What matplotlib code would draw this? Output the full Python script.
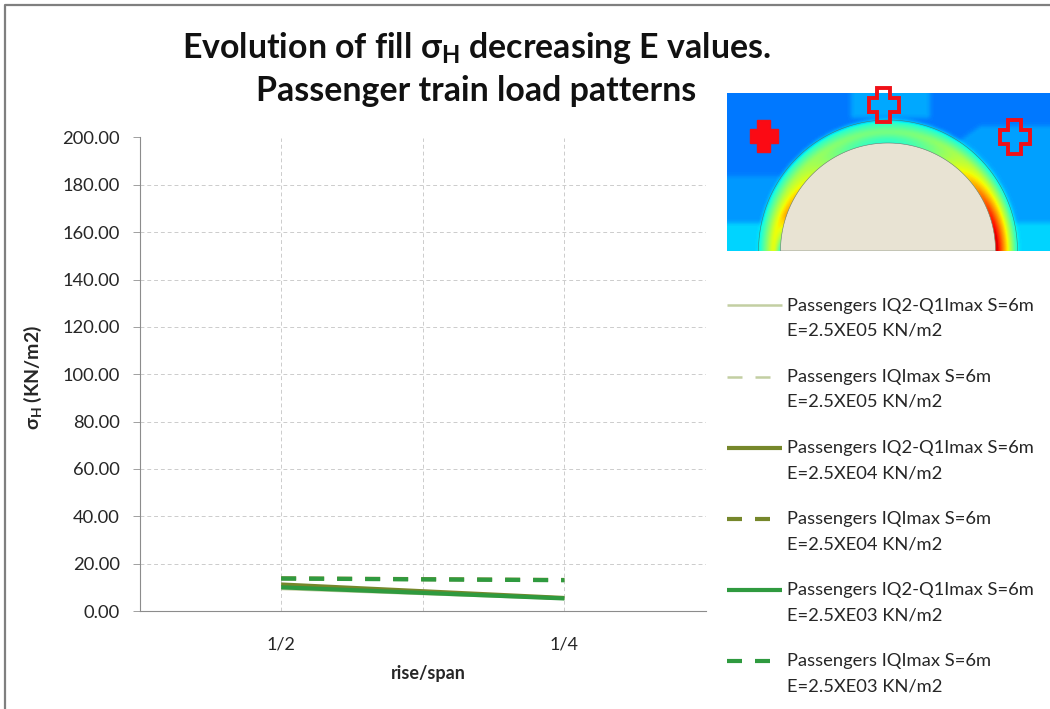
import numpy as np
import matplotlib
matplotlib.use("Agg")
import matplotlib.pyplot as plt
from matplotlib.legend_handler import HandlerLine2D
from matplotlib.lines import Line2D
from matplotlib.patches import Polygon

W, H = 1050, 709

categories = ["1/2", "1/4"]
y_ticks = [0, 20, 40, 60, 80, 100, 120, 140, 160, 180, 200]

iq2_e05 = [9.3, 5.1]
iqmax_e05 = [13.7, 13.0]
iq2_e04 = [11.2, 5.5]
iqmax_e04 = [13.8, 13.1]
iq2_e03 = [10.0, 5.3]
iqmax_e03 = [13.7, 13.0]

labels = [
    "Passengers IQ2-Q1Imax S=6m\nE=2.5XE05 KN/m2",
    "Passengers IQImax S=6m\nE=2.5XE05 KN/m2",
    "Passengers IQ2-Q1Imax S=6m\nE=2.5XE04 KN/m2",
    "Passengers IQImax S=6m\nE=2.5XE04 KN/m2",
    "Passengers IQ2-Q1Imax S=6m\nE=2.5XE03 KN/m2",
    "Passengers IQImax S=6m\nE=2.5XE03 KN/m2",
]
series = [iq2_e05, iqmax_e05, iq2_e04, iqmax_e04, iq2_e03, iqmax_e03]
colors = ["#c3cfa2", "#c3cfa2", "#76872b", "#76872b", "#2f9a3f", "#2f9a3f"]
widths = [1.8, 1.8, 3.0, 3.0, 3.0, 3.0]
dashed = [False, True, False, True, False, True]

plt.rcParams["font.family"] = ["Lato", "DejaVu Sans"]
plt.rcParams["mathtext.fontset"] = "custom"
plt.rcParams["mathtext.rm"] = "Lato"
plt.rcParams["mathtext.bf"] = "Lato:bold"
text_col = "#262626"


# legend line next to the first text line, not centred on the two lines
class FirstLineHandler(HandlerLine2D):
    def create_artists(self, legend, orig_handle, xdescent, ydescent, width, height, fontsize, trans):
        return super().create_artists(legend, orig_handle, xdescent, ydescent - 1.42 * fontsize,
                                      width, height, fontsize, trans)


fig = plt.figure(figsize=(W / 100, H / 100), dpi=100)

# axes box in picture pixels
left, right, top, bottom = 139.5, 706, 137.5, 611
ax = fig.add_axes([left / W, 1 - bottom / H, (right - left) / W, (bottom - top) / H])

x = np.arange(len(categories))
handles = []
for vals, lab, c, lw, d in zip(series, labels, colors, widths, dashed):
    ln, = ax.plot(x, vals, color=c, lw=lw, label=lab, solid_capstyle="butt")
    if d:
        ln.set_linestyle((0, (15 / (lw * 100 / 72), 13 / (lw * 100 / 72))))
        ln.set_dash_capstyle("butt")
    handles.append(ln)

ax.set_xlim(-0.5, 1.5)
ax.set_ylim(0, 200)
ax.set_yticks(y_ticks)
ax.set_yticklabels(["%.2f" % v for v in y_ticks], fontsize=13.2, color=text_col)
ax.set_xticks(x)
ax.set_xticklabels(categories, fontsize=13, color=text_col)
ax.set_xticks([0.5, 1.5], minor=True)
ax.grid(True, which="both", color="#cccccc", lw=0.7, ls=(0, (4, 3)))
ax.set_axisbelow(True)
ax.tick_params(axis="y", length=5, width=0.7, color="#a0a0a0", pad=9)
ax.tick_params(axis="x", which="both", length=0, pad=18)
for s in ["top", "right"]:
    ax.spines[s].set_visible(False)
for s in ["left", "bottom"]:
    ax.spines[s].set_color("#8c8c8c")
    ax.spines[s].set_linewidth(0.8)

fig.text(33 / W, 1 - 377 / H, r"σ$_{\mathbf{H}}$ (KN/m2)", rotation=90, fontsize=14,
         fontweight="bold", color=text_col, ha="center", va="center")
fig.text(428 / W, 1 - 673 / H, "rise/span", fontsize=13, fontweight="bold",
         color=text_col, ha="center", va="center")
fig.text(476 / W, 1 - 68.5 / H,
         "Evolution of fill σ$_{\\mathbf{H}}$ decreasing E values.\nPassenger train load patterns",
         fontsize=24.4, fontweight="bold", color="#111111", ha="center", va="center",
         linespacing=1.32)

leg = fig.legend(handles=handles, labels=labels, loc="upper left",
                 bbox_to_anchor=(727 / W, 1 - 298 / H), frameon=False, fontsize=13.2,
                 labelcolor=text_col, handlelength=3.0, handletextpad=0.27,
                 labelspacing=1.65, borderpad=0, borderaxespad=0, alignment="left",
                 handler_map={Line2D: FirstLineHandler()})
for txt in leg.get_texts():
    txt.set_linespacing(1.68)

# outer chart border
fig.add_artist(Line2D([5 / W, 5 / W, 1], [0, 1 - 5 / H, 1 - 5 / H], color="#7f7f7f", lw=1.6))

# FE contour picture, top right
il, ir, it, ib = 727, 1050, 93, 251
inset = fig.add_axes([il / W, 1 - ib / H, (ir - il) / W, (ib - it) / H])
gx, gy = np.meshgrid(np.arange(il, ir), np.arange(it, ib))
cx, cy = 888, 251
t = (np.hypot((gx - cx) / 129.5, (gy - cy) / 131.0) - 108 / 131.0) / (1 - 108 / 131.0)
t = np.clip(t, -0.2, 1.3)
side = np.clip((cy - gy) / 131.0, 0, 1)
hot = 1 - side ** 2
field = np.full(gx.shape, 0.245)
field[(gx > 850) & (gx < 930) & (gy < 118)] = 0.29
field[(gy > 175) & (gx < 780)] = 0.275
field[(gx > 945) & (gy > 125) & (gy > 150 - (gx - 945) * 0.7)] = 0.285
field[gy > 222] = 0.335
top_val = 0.2 + 0.3 * np.clip(t / 0.5, 0, 1) - 0.12 * np.clip((t - 0.5) / 0.5, 0, 1)
side_val = 0.82 - 0.46 * np.clip(t, 0, 1)
ring = (1 - hot) * top_val + hot * side_val
ring += 0.2 * np.clip(gx - cx, 0, None) / 130 * np.clip(1 - t, 0, 1) * hot
# left foot of the ring goes cold at its inner edge
ring -= 0.5 * np.clip((gy - 215) / 36, 0, 1) * (gx < cx) * np.clip(1 - t * 3, 0, 1)
mask = (t > -0.1) & (t < 1.02)
field[mask] = ring[mask]
# soften the region borders
kernel = np.ones(5) / 5
for _ in range(2):
    field = np.apply_along_axis(lambda r: np.convolve(r, kernel, mode="same"), 1, np.pad(field, 4, mode="edge"))[4:-4, 4:-4]
    field = np.apply_along_axis(lambda r: np.convolve(r, kernel, mode="same"), 0, np.pad(field, 4, mode="edge"))[4:-4, 4:-4]
inset.imshow(field, cmap="jet", vmin=0, vmax=1, extent=(il, ir, ib, it), aspect="auto",
             interpolation="bilinear")
th = np.linspace(0, np.pi, 100)
inset.add_patch(Polygon(np.c_[cx + 107.5 * np.cos(th), cy - 108 * np.sin(th)],
                        closed=True, fc="#e8e3d3", ec="#6a7a6a", lw=0.4))
inset.plot(cx + 129.5 * np.cos(th), cy - 131 * np.sin(th), color="#3f7f6f", lw=0.4)
inset.set_xlim(il, ir)
inset.set_ylim(ib, it)
inset.axis("off")


def cross(px, py, filled):
    a, b = 6.5, 7
    wd, hg = (14, 16) if filled else (15, 17)
    pts = [(-a, -hg), (a, -hg), (a, -b), (wd, -b), (wd, b), (a, b), (a, hg), (-a, hg),
           (-a, b), (-wd, b), (-wd, -b), (-a, -b)]
    pts = [(px + u, py + v) for u, v in pts]
    inset.add_patch(Polygon(pts, closed=True, fc="#fb0a14" if filled else "none",
                            ec="#f01018", lw=1.0 if filled else 2.8, clip_on=False, zorder=5))


cross(764, 136, True)
cross(884, 105, False)
cross(1015, 137, False)

fig.savefig("out.png", dpi=100)
